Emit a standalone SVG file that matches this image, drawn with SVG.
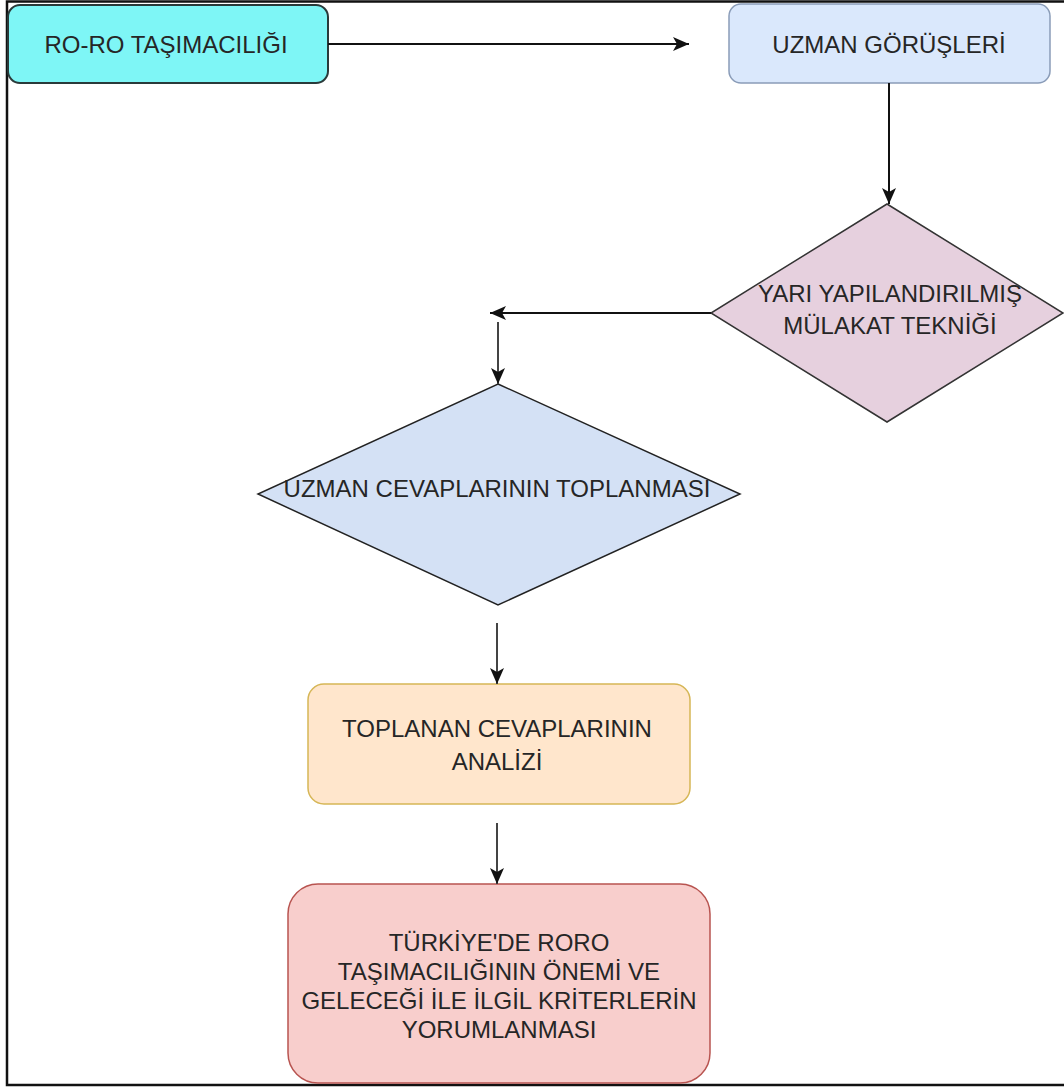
<svg xmlns="http://www.w3.org/2000/svg" width="1064" height="1088" viewBox="0 0 1064 1088">
<style>
text{font-family:"Liberation Sans",Arial,sans-serif;font-size:24px;fill:#262626;text-anchor:middle}
.edge{stroke:#111;stroke-width:2;fill:none}
.edge2{stroke:#444;stroke-width:2;fill:none}
.frame{stroke:#111;stroke-width:2.5;fill:none}
</style>
<defs>
<marker id="arr" markerUnits="userSpaceOnUse" markerWidth="16" markerHeight="14" viewBox="0 0 16 14" refX="16" refY="7" orient="auto">
<path d="M0,0 L16,7 L0,14 L4,7 Z" fill="#111"/>
</marker>
</defs>
<rect width="1064" height="1088" fill="#fff"/>
<path class="frame" d="M1064,1.5 H7 V1085 H1064"/>
<g id="n1">
<rect x="8" y="5" width="320" height="78" rx="12" fill="#7ef6f6" stroke="#2a3a3a" stroke-width="2"/>
<text x="166" y="53">RO-RO TAŞIMACILIĞI</text>
</g>
<g id="n2">
<rect x="729" y="4" width="321" height="79" rx="12" fill="#dae8fc" stroke="#8a9cb8" stroke-width="1.5"/>
<text x="889" y="53">UZMAN GÖRÜŞLERİ</text>
</g>
<g id="n3">
<polygon points="887,204 1063,313 887,422 711,313" fill="#e6d0de" stroke="#333" stroke-width="1.5"/>
<text x="890" y="302">YARI YAPILANDIRILMIŞ</text>
<text x="890" y="334">MÜLAKAT TEKNİĞİ</text>
</g>
<g id="n4">
<polygon points="498,384 740,494 498,605 258,494" fill="#d4e1f5" stroke="#222" stroke-width="1.5"/>
<text x="497" y="497">UZMAN CEVAPLARININ TOPLANMASI</text>
</g>
<g id="n5">
<rect x="308" y="684" width="382" height="120" rx="16" fill="#ffe6cc" stroke="#d6b656" stroke-width="1.5"/>
<text x="497" y="737">TOPLANAN CEVAPLARININ</text>
<text x="497" y="770">ANALİZİ</text>
</g>
<g id="n6">
<rect x="288" y="884" width="422" height="199" rx="30" fill="#f8cecc" stroke="#b85450" stroke-width="1.5"/>
<text x="499" y="951">TÜRKİYE'DE RORO</text>
<text x="499" y="980">TAŞIMACILIĞININ ÖNEMİ VE</text>
<text x="499" y="1009">GELECEĞİ İLE İLGİL KRİTERLERİN</text>
<text x="499" y="1038">YORUMLANMASI</text>
</g>
<g id="edges">
<line class="edge" x1="328" y1="44" x2="689" y2="44" marker-end="url(#arr)"/>
<line class="edge" x1="889" y1="83" x2="889" y2="204" marker-end="url(#arr)"/>
<line class="edge" x1="711" y1="313" x2="490" y2="313" marker-end="url(#arr)"/>
<line class="edge2" x1="498" y1="322" x2="498" y2="384" marker-end="url(#arr)"/>
<line class="edge2" x1="497" y1="623" x2="497" y2="684" marker-end="url(#arr)"/>
<line class="edge2" x1="497" y1="823" x2="497" y2="884" marker-end="url(#arr)"/>
</g>
</svg>
